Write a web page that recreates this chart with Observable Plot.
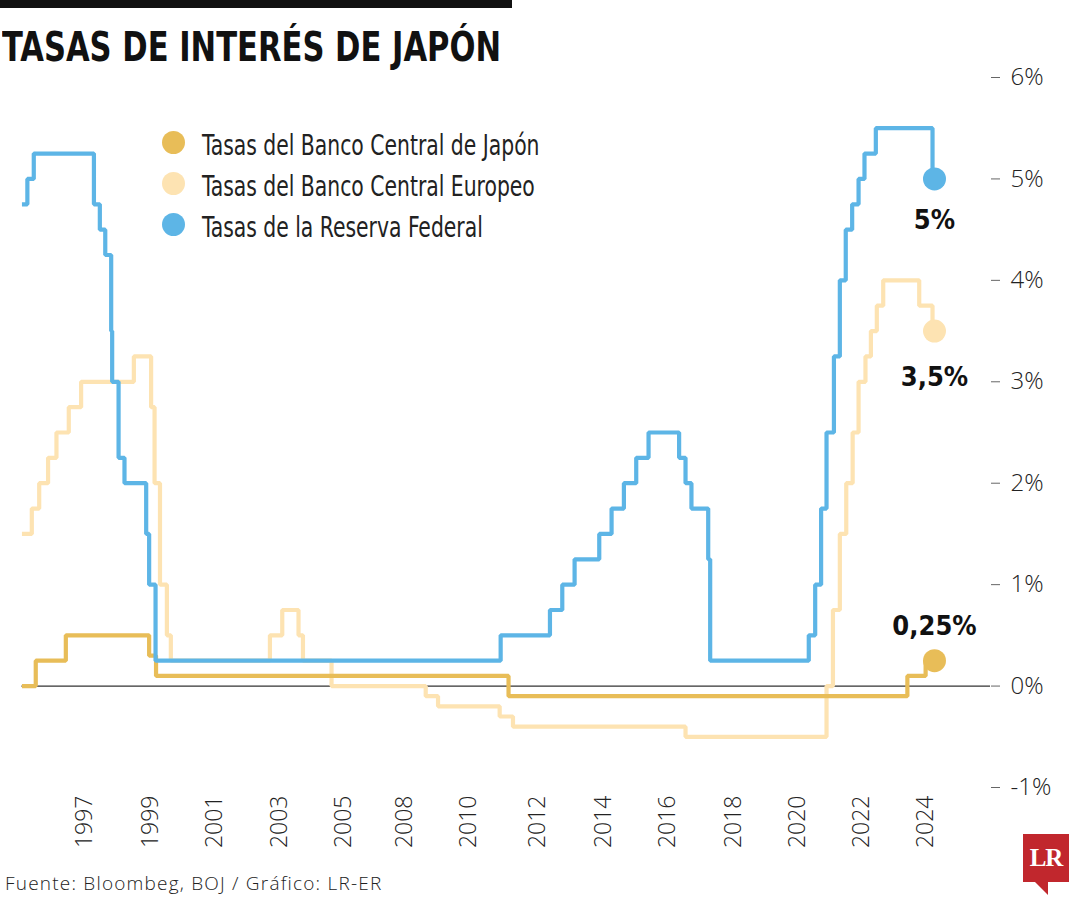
<!DOCTYPE html>
<html>
<head>
<meta charset="utf-8">
<script src="https://cdn.jsdelivr.net/npm/d3@7"></script>
<script src="https://cdn.jsdelivr.net/npm/@observablehq/plot@0.6"></script>
<style>
  body { margin: 0; background: #fff; }
  #wrap { position: relative; width: 1080px; height: 900px; overflow: hidden; background: #fff; }
  #chart { position: absolute; left: 0; top: 0; }
  .abs { position: absolute; white-space: nowrap; line-height: normal; }
  #bar { left: 0; top: 0; width: 512px; height: 8px; background: #111; }
  #title { left: 2px; top: 24px; font-family: "DejaVu Sans Condensed", "DejaVu Sans", sans-serif; font-stretch: condensed; font-weight: 700; font-size: 40px; color: #111; transform: scaleX(0.85); transform-origin: 0 0; }
  .leg-dot { position: absolute; width: 23px; height: 23px; border-radius: 50%; }
  .leg-txt { font-family: "DejaVu Sans Condensed", "DejaVu Sans", sans-serif; font-stretch: condensed; font-size: 29px; color: #222; transform: scaleX(0.78); transform-origin: 0 0; }
  #source { left: 5px; font-family: "Open Sans", sans-serif; font-weight: 300; font-size: 19px; letter-spacing: 1.2px; color: #222; }
  #logo { left: 1023px; top: 834px; width: 46px; height: 48px; background: #c1272d; color: #fff; font-family: "Liberation Serif", serif; font-weight: 700; font-size: 25px; text-align: center; line-height: 48px; letter-spacing: -1px; }
  #tail { left: 1034px; top: 881px; width: 0; height: 0; border-left: 14px solid transparent; border-right: 0 solid transparent; border-top: 14px solid #c1272d; }
</style>
</head>
<body>
<div id="wrap">
  <div id="chart"></div>
  <div id="bar" class="abs"></div>
  <div id="title" class="abs">TASAS DE INTERÉS DE JAPÓN</div>
  <div id="legend"></div>
  <div id="source" class="abs">Fuente: Bloombeg, BOJ / Gráfico: LR-ER</div>
  <div id="logo" class="abs">LR</div>
  <div id="tail" class="abs"></div>
</div>
<script>
// ---------------- data ----------------
const seriesNames = ["Tasas del Banco Central de Japón", "Tasas del Banco Central Europeo", "Tasas de la Reserva Federal"];
const seriesColors = ["#e8bd58", "#fde3b2", "#5db5e6"];
const endLabels = ["0,25%", "3,5%", "5%"];

// Bank of Japan policy rate (decimal years, %)
const bojDates = [2006.25, 2006.53, 2007.14, 2008.83, 2008.97, 2016.12, 2024.21, 2024.58, 2024.76];
const bojRates = [0.0, 0.25, 0.5, 0.3, 0.1, -0.1, 0.1, 0.25, 0.25];

// European Central Bank deposit rate
const ecbDates = [2006.25, 2006.45, 2006.60, 2006.78, 2006.95, 2007.20, 2007.45, 2008.52, 2008.87, 2008.94, 2009.05, 2009.19, 2009.27,
  2011.28, 2011.53, 2011.86, 2011.95, 2012.53, 2014.44, 2014.69, 2015.94, 2016.21, 2019.71,
  2022.57, 2022.70, 2022.84, 2022.97, 2023.10, 2023.22, 2023.36, 2023.47, 2023.59, 2023.72, 2024.45, 2024.72, 2024.76];
const ecbRates = [1.5, 1.75, 2.0, 2.25, 2.5, 2.75, 3.0, 3.25, 2.75, 2.0, 1.0, 0.5, 0.25,
  0.5, 0.75, 0.5, 0.25, 0.0, -0.1, -0.2, -0.3, -0.4, -0.5,
  0.0, 0.75, 1.5, 2.0, 2.5, 3.0, 3.25, 3.5, 3.75, 4.0, 3.75, 3.5, 3.5];

// US Federal Reserve funds rate
const fedDates = [2006.25, 2006.36, 2006.49, 2007.71, 2007.83, 2007.94, 2008.06, 2008.08, 2008.21, 2008.33, 2008.77, 2008.83, 2008.96,
  2015.96, 2016.96, 2017.21, 2017.46, 2017.96, 2018.21, 2018.46, 2018.71, 2018.96, 2019.58, 2019.71, 2019.83, 2020.17, 2020.21,
  2022.21, 2022.34, 2022.46, 2022.57, 2022.72, 2022.84, 2022.96, 2023.09, 2023.22, 2023.34, 2023.57, 2024.72, 2024.76];
const fedRates = [4.75, 5.0, 5.25, 4.75, 4.5, 4.25, 3.5, 3.0, 2.25, 2.0, 1.5, 1.0, 0.25,
  0.5, 0.75, 1.0, 1.25, 1.5, 1.75, 2.0, 2.25, 2.5, 2.25, 2.0, 1.75, 1.25, 0.25,
  0.5, 1.0, 1.75, 2.5, 3.25, 4.0, 4.5, 4.75, 5.0, 5.25, 5.5, 5.0, 5.0];

// axis ticks as printed on the chart
const xTickValues = [2007.52, 2008.86, 2010.16, 2011.48, 2012.77, 2014.02, 2015.32, 2016.72, 2018.04, 2019.34, 2020.68, 2021.99, 2023.29, 2024.59];
const xTickLabels = ["1997", "1999", "2001", "2003", "2005", "2008", "2010", "2012", "2014", "2016", "2018", "2020", "2022", "2024"];
const yTickValues = [-1, 0, 1, 2, 3, 4, 5, 6];

// ---------------- build ----------------
const toRows = (dates, rates, s) => dates.map((d, i) => ({date: d, rate: rates[i], series: s}));
const rows = [
  ...toRows(ecbDates, ecbRates, seriesNames[1]),
  ...toRows(bojDates, bojRates, seriesNames[0]),
  ...toRows(fedDates, fedRates, seriesNames[2])
];
const ends = seriesNames.map((s, i) => {
  const r = rows.filter(d => d.series === s);
  return {...r[r.length - 1], label: endLabels[i]};
});
const xLabel = new Map(xTickValues.map((v, i) => [v, xTickLabels[i]]));
const colorOf = new Map(seriesNames.map((s, i) => [s, seriesColors[i]]));
const lineOrder = [seriesNames[1], seriesNames[0], seriesNames[2]];
const labelFont = "'DejaVu Sans Condensed', 'DejaVu Sans', sans-serif";

const chart = Plot.plot({
  width: 1080,
  height: 860,
  marginTop: 77,
  marginBottom: 73,
  marginLeft: 0,
  marginRight: 90,
  style: {fontFamily: "'Open Sans', sans-serif", background: "transparent", overflow: "visible"},
  x: {type: "linear", domain: [2005.815, 2025.896]},
  y: {domain: [-1, 6]},
  marks: [
    Plot.ruleY([0], {x1: d3.min(bojDates), x2: 2025.896, stroke: "#333", strokeWidth: 1.3}),
    ...lineOrder.map(s => Plot.line(rows.filter(d => d.series === s), {
      x: "date", y: "rate", curve: "step-after", stroke: colorOf.get(s), strokeWidth: 4.2,
      strokeLinejoin: "miter", strokeLinecap: "butt"
    })),
    Plot.dot(ends, {x: "date", y: "rate", r: 11.5, fill: d => colorOf.get(d.series), stroke: "none"}),
    Plot.text(ends.filter(d => d.series === seriesNames[2]), {x: "date", y: "rate", text: "label", lineAnchor: "top", dy: 31, fontSize: 27, fontWeight: 700, fontFamily: labelFont, fill: "#111"}),
    Plot.text(ends.filter(d => d.series === seriesNames[1]), {x: "date", y: "rate", text: "label", lineAnchor: "top", dy: 36, fontSize: 27, fontWeight: 700, fontFamily: labelFont, fill: "#111"}),
    Plot.text(ends.filter(d => d.series === seriesNames[0]), {x: "date", y: "rate", text: "label", lineAnchor: "bottom", dy: -26, fontSize: 27, fontWeight: 700, fontFamily: labelFont, fill: "#111"}),
    Plot.axisY({anchor: "right", ticks: yTickValues, tickFormat: d => `${d}%`, tickSize: 9, tickPadding: 11,
      fontSize: 24, fontWeight: 300, stroke: "#666", fill: "#222", label: null}),
    Plot.axisX({anchor: "bottom", ticks: xTickValues, tickFormat: d => xLabel.get(d), tickRotate: -90, tickSize: 0,
      tickPadding: 8, fontSize: 23, fontWeight: 300, fill: "#222", label: null})
  ]
});
document.getElementById("chart").appendChild(chart);

// legend (HTML)
const legend = document.getElementById("legend");
const legBaselines = [155, 196, 237];
seriesNames.forEach((s, i) => {
  const dot = document.createElement("div");
  dot.className = "leg-dot";
  dot.style.left = (173 - 11.5) + "px";
  dot.style.top = (legBaselines[i] - 13 - 11.5) + "px";
  dot.style.background = seriesColors[i];
  legend.appendChild(dot);
  const t = document.createElement("div");
  t.className = "abs leg-txt";
  t.style.left = "202px";
  t.style.top = (legBaselines[i] - 0.928 * 29) + "px";
  t.textContent = s;
  legend.appendChild(t);
});
const src = document.getElementById("source");
src.style.top = (890 - 1.069 * 19) + "px";
</script>
</body>
</html>
